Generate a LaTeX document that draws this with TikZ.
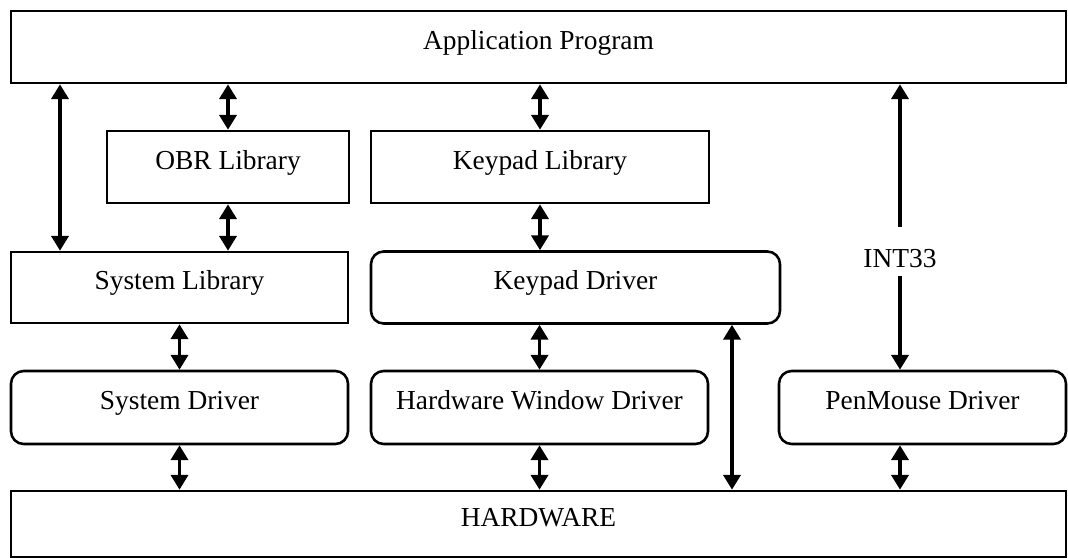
\documentclass[tikz,border=0pt]{standalone}
\usepackage{fontspec}
\setmainfont{Liberation Serif}
\usetikzlibrary{arrows.meta, positioning, calc}

\begin{document}
\begin{tikzpicture}[x=0.025cm, y=-0.025cm,
  every node/.style={font=\fontsize{19.5}{23}\selectfont, text height=13pt, text depth=10pt},
  box/.style={draw, line width=1.8pt, inner sep=0pt},
  rbox/.style={box, rounded corners=9pt},
  biarrow/.style={{Triangle[length=10.5pt,width=12pt]}-{Triangle[length=10.5pt,width=12pt]}, line width=2.8pt},
  uparrow/.style={-{Triangle[length=10.5pt,width=12pt]}, line width=2.8pt}]
\useasboundingbox (0,0) rectangle (1068,558);
\node[box, minimum width=1055*0.025cm, minimum height=72*0.025cm] (app) at (538.5,47) {Application Program};
\node[box, minimum width=242*0.025cm, minimum height=72*0.025cm] (obr) at (228,167) {OBR Library};
\node[box, minimum width=338*0.025cm, minimum height=72*0.025cm] (kplib) at (540,167) {Keypad Library};
\node[box, minimum width=337*0.025cm, minimum height=71*0.025cm] (syslib) at (179.5,287.5) {System Library};
\node[rbox, minimum width=409*0.025cm, minimum height=72*0.025cm] (kpdrv) at (575.5,287.5) {Keypad Driver};
\node[rbox, minimum width=337*0.025cm, minimum height=73*0.025cm] (sysdrv) at (179.5,407.5) {System Driver};
\node[rbox, minimum width=337*0.025cm, minimum height=73*0.025cm] (hwdrv) at (539.5,407.5) {Hardware Window Driver};
\node[rbox, minimum width=287*0.025cm, minimum height=73*0.025cm] (pmdrv) at (922.5,407.5) {PenMouse Driver};
\node[box, minimum width=1055*0.025cm, minimum height=66*0.025cm] (hw) at (538.5,524) {HARDWARE};
\node[anchor=base, inner xsep=4pt, inner ysep=9*0.025cm, text height=31*0.025cm, text depth=0pt] (int) at (900,267) {INT33};
% x positions of the off-centre arrows
\coordinate (xa) at (60,0);
\coordinate (xb) at (732,0);
\coordinate (xc) at (900,0);
\draw[biarrow] (app.south -| xa) -- (syslib.north -| xa);
\draw[biarrow] (app.south -| obr) -- (obr.north);
\draw[biarrow] (obr.south) -- (obr.south |- syslib.north);
\draw[biarrow] (app.south -| kplib) -- (kplib.north);
\draw[biarrow] (kplib.south) -- (kplib.south |- kpdrv.north);
\draw[biarrow] (syslib.south -| sysdrv) -- (sysdrv.north);
\draw[biarrow] (sysdrv.south) -- (sysdrv.south |- hw.north);
\draw[biarrow] (kpdrv.south -| hwdrv) -- (hwdrv.north);
\draw[biarrow] (hwdrv.south) -- (hwdrv.south |- hw.north);
\draw[biarrow] (kpdrv.south -| xb) -- (hw.north -| xb);
\draw[uparrow] (int.north) -- (app.south -| int);
\draw[uparrow] (int.south) -- (pmdrv.north -| int);
\draw[biarrow] (pmdrv.south -| xc) -- (hw.north -| xc);
\end{tikzpicture}
\end{document}
